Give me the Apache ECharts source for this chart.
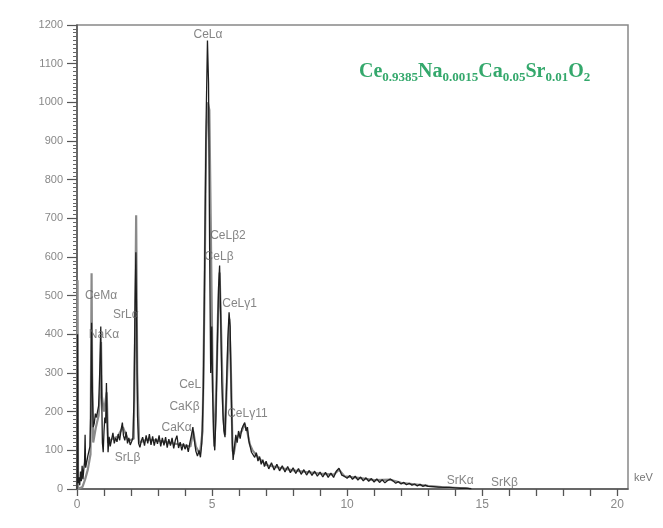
<!DOCTYPE html>
<html>
<head>
<meta charset="utf-8">
<script src="https://cdn.jsdelivr.net/npm/echarts@6/dist/echarts.min.js"></script>
<style>html,body{margin:0;padding:0;background:#fff}#c{width:663px;height:528px}</style>
</head>
<body>
<div id="c"></div>
<script>
// Black spectrum: energy (keV) and counts
const energyA = [0.00,0.02,0.04,0.07,0.10,0.13,0.16,0.19,0.22,0.25,0.28,0.30,0.32,0.36,0.40,0.44,0.48,0.51,0.54,0.57,0.60,0.64,0.68,0.72,0.76,0.80,0.84,0.88,0.91,0.94,0.97,1.00,1.03,1.06,1.09,1.12,1.15,1.19,1.23,1.28,1.33,1.38,1.43,1.48,1.53,1.58,1.63,1.68,1.72,1.77,1.82,1.87,1.92,1.97,2.02,2.07,2.11,2.15,2.18,2.21,2.24,2.28,2.33,2.38,
2.43,2.50,2.56,2.62,2.68,2.74,2.80,2.86,2.92,2.98,3.04,3.10,3.16,3.22,3.28,3.34,3.40,3.46,3.52,3.58,3.64,3.70,3.76,3.82,3.88,3.94,4.00,4.06,4.12,4.18,4.24,4.29,4.34,4.40,
4.46,4.52,4.57,4.62,4.68,4.73,4.78,4.83,4.87,4.91,4.95,4.99,5.02,5.06,5.10,5.14,5.19,5.24,5.28,5.32,5.36,5.40,5.44,5.48,5.53,5.58,5.63,5.67,5.71,5.75,5.78,5.83,5.88,5.93,5.98,6.04,6.10,6.16,6.21,6.26,6.31,6.36,6.41,6.46,6.52,6.58,6.64,6.70,6.76,6.82,6.88,6.94,
7.0,7.1,7.2,7.3,7.4,7.5,7.6,7.7,7.8,7.9,8.0,8.1,8.2,8.3,8.4,8.5,8.6,8.7,8.8,8.9,9.0,9.1,9.2,9.3,9.4,9.5,9.6,9.7,9.8,9.9,10.0,10.1,10.2,10.3,10.4,10.5,10.6,10.7,10.8,10.9,11.0,11.1,11.2,11.3,11.4,11.5,11.6,11.7,11.8,11.9,12.0,12.1,12.2,12.3,12.4,12.5,12.6,12.7,12.8,12.9,13.0,13.2,13.4,13.6,13.8,14.0,14.2,14.4,14.6];
const countsA = [0,400,15,30,10,45,20,60,25,50,70,140,55,70,85,90,110,200,430,250,160,170,195,185,200,215,300,420,260,120,95,150,185,170,274,170,95,135,110,128,145,118,132,122,142,126,152,172,138,126,148,118,132,114,122,132,230,480,612,420,190,118,108,124,
134,112,139,118,142,114,136,112,131,117,139,110,132,113,134,107,129,112,132,105,126,138,106,121,100,118,103,115,96,120,140,160,128,98,
85,100,82,118,260,600,950,1160,1050,620,300,420,250,140,100,180,350,520,578,450,280,200,150,134,250,380,457,420,250,120,75,110,140,120,150,130,155,165,172,150,160,125,110,95,100,82,94,72,84,64,76,58,
72,52,68,49,64,47,60,44,58,42,55,40,53,38,50,36,48,35,46,33,44,31,43,30,41,30,46,54,36,33,28,35,25,33,23,31,21,29,20,27,18,26,17,24,16,22,26,21,15,19,13,17,11,15,10,13,8,12,7,10,7,6,5,4,4,3,2,2,1];

// Grey spectrum: energy (keV) and counts
const energyB = [0.00,0.02,0.04,0.10,0.20,0.30,0.40,0.50,0.52,0.54,0.56,0.60,0.70,0.80,0.86,0.89,0.92,1.00,1.10,1.15,1.30,1.50,1.70,1.90,2.10,2.15,2.19,2.23,2.30,2.60,3.00,3.40,3.80,4.20,4.30,4.40,4.55,4.65,4.72,4.78,4.84,4.90,4.95,4.98,5.02,5.08,5.14,5.22,5.28,5.34,5.42,5.48,5.56,5.64,5.70,5.76,5.80,5.90,6.00,6.10,6.20,6.30,6.40,6.50,6.70,7.0,7.5,8.0,8.5,9.0,9.5,9.7,9.9,10.5,11.0,11.6,12.0,12.5,13.0,13.5,14.0,14.5];
const countsB = [0,540,0,0,5,25,50,90,300,558,300,120,160,190,250,380,240,200,250,120,130,135,160,125,130,400,708,300,120,128,125,120,115,110,150,110,90,150,500,900,1000,980,700,522,300,110,200,450,560,400,180,140,300,440,300,100,90,130,140,150,168,150,115,100,82,62,55,48,44,40,37,50,33,28,23,24,16,12,8,5,3,1];

// Peak annotations: text, energy (keV), counts
const peakNames = ['CeLα','CeMα','NaKα','SrLα','SrLβ','CeLβ2','CeLβ','CeLγ1','CeL','CaKβ','CaKα','CeLγ11','SrKα','SrKβ'];
const peakEnergy = [4.85,0.89,1.00,1.81,1.87,5.59,5.26,6.02,4.19,3.98,3.69,6.31,14.19,15.83];
const peakCounts = [1176,501,400,452,80,654,602,478,269,214,158,194,21,16];

const xTicks = [0,5,10,15,20];

const seriesA = energyA.map((e,i)=>[e,countsA[i]]);
const seriesB = energyB.map((e,i)=>[e,countsB[i]]);
const labels = peakNames.map((n,i)=>({value:[peakEnergy[i],peakCounts[i]], name:n}));

const chart = echarts.init(document.getElementById('c'), null, {renderer:'canvas'});
const green = '#34a86c';
chart.setOption({
  animation:false,
  grid:{left:77,right:35,top:25,bottom:39,show:true,borderColor:'#888',borderWidth:1.5},
  xAxis:{type:'value',min:0,max:20.4,interval:1,
    axisLine:{lineStyle:{color:'#555',width:1.5}},
    axisTick:{show:true,length:7,lineStyle:{color:'#555',width:1.3}},
    splitLine:{show:false},
    axisLabel:{color:'#888',fontSize:12,fontFamily:'Liberation Sans',margin:10,
      formatter:v=>xTicks.indexOf(v)>=0?String(v):'',showMaxLabel:false}
  },
  yAxis:{type:'value',min:0,max:1200,interval:100,
    axisLine:{show:true,lineStyle:{color:'#555',width:1.5}},
    axisTick:{show:true,length:10,lineStyle:{color:'#555',width:1.2}},
    minorTick:{show:true,splitNumber:10,length:4,lineStyle:{color:'#666',width:1}},
    splitLine:{show:false},
    axisLabel:{color:'#888',fontSize:11,fontFamily:'Liberation Sans',margin:14,formatter:v=>String(v)}
  },
  series:[
    {type:'line',data:seriesB,symbol:'none',lineStyle:{color:'#8a8a8a',width:2.2},z:2},
    {type:'line',data:seriesA,symbol:'none',lineStyle:{color:'#1e1e1e',width:1.3},z:3},
    {type:'scatter',data:labels,symbolSize:0,z:5,
      label:{show:true,position:'inside',formatter:p=>p.name,color:'#666',fontSize:12,fontFamily:'Liberation Sans'}}
  ],
  graphic:[
    {type:'text',left:634,top:472,style:{text:'keV',fill:'#777',font:'11px "Liberation Sans"'}},
    {type:'text',left:359,top:62,style:{
      text:'{b|Ce}{s|0.9385}{b|Na}{s|0.0015}{b|Ca}{s|0.05}{b|Sr}{s|0.01}{b|O}{s|2}',
      rich:{
        b:{fill:green,fontFamily:'Liberation Serif',fontWeight:'bold',fontSize:20,lineHeight:25,verticalAlign:'bottom'},
        s:{fill:green,fontFamily:'Liberation Serif',fontWeight:'bold',fontSize:13,lineHeight:16,verticalAlign:'bottom',padding:[0,0,-2,0]}
      }}}
  ]
});
</script>
</body>
</html>
